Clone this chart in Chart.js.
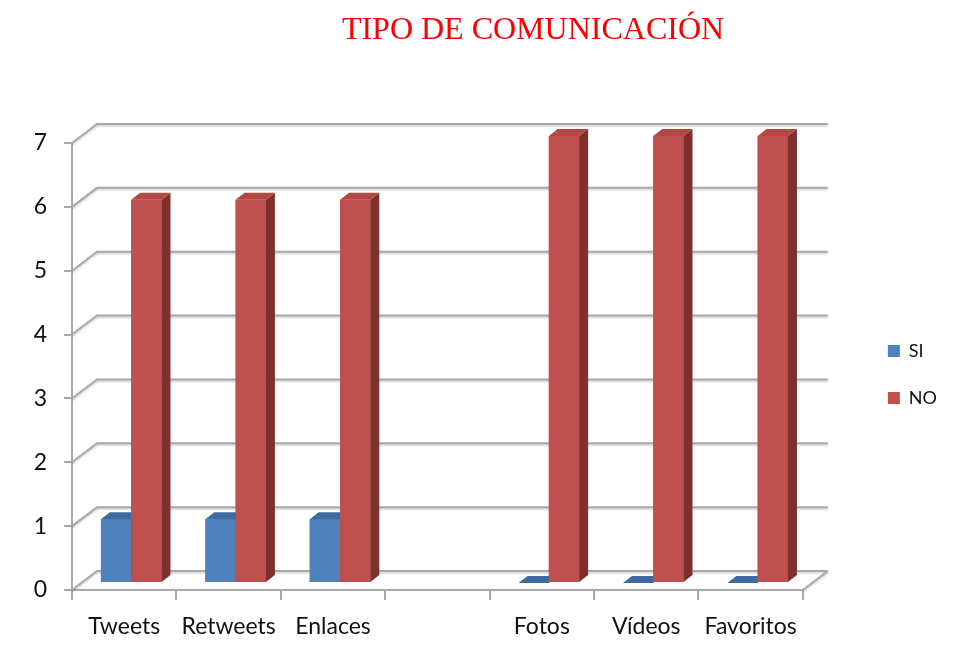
<!DOCTYPE html>
<html>
<head>
<meta charset="utf-8">
<script src="https://cdn.jsdelivr.net/npm/chart.js@4.4.1/dist/chart.umd.min.js"></script>
<style>
    html, body { margin: 0; padding: 0; background: #fff; overflow: hidden; }
    #wrap { position: relative; width: 954px; height: 660px; }
    #titulo {
        position: absolute; left: 533px; top: 10px; transform: translateX(-50%);
        white-space: nowrap; font: 32px "Liberation Serif", "Times New Roman", serif; color: #ff0000;
    }
</style>
</head>
<body>
<div id="wrap">
    <div id="titulo">TIPO DE COMUNICACIÓN</div>
    <canvas id="myChart" width="954" height="660"></canvas>
</div>
<script>
const categorias = ['Tweets', 'Retweets', 'Enlaces', '', 'Fotos', 'Vídeos', 'Favoritos'];
const valoresSi = [1, 1, 1, null, 0, 0, 0];
const valoresNo = [6, 6, 6, null, 7, 7, 7];
const ticksY = [0, 1, 2, 3, 4, 5, 6, 7];

const gris = '#a9a9a9';
const fondo = { dx: 25, dy: -19 };   // back wall offset
const barra = { dx: 7, dy: -7, lado: 9, alto: 7 };  // bar offset + depth

// draws the back wall / floor lines and the side and top faces of the columns
const caras3d = {
    id: 'caras3d',
    beforeDatasetsDraw(chart) {
        const { ctx, chartArea: a, scales: { y } } = chart;
        ctx.save();
        ctx.strokeStyle = gris;
        ctx.lineWidth = 2;
        ctx.shadowColor = 'rgba(0,0,0,0.2)';
        ctx.shadowBlur = 2;
        ctx.shadowOffsetY = 1.5;
        y.ticks.forEach(t => {
            const py = y.getPixelForValue(t.value);
            ctx.beginPath();
            ctx.moveTo(a.left, py);
            ctx.lineTo(a.left + fondo.dx, py + fondo.dy);
            ctx.lineTo(a.right + fondo.dx, py + fondo.dy);
            ctx.stroke();
        });
        ctx.beginPath();
        ctx.moveTo(a.right, a.bottom);
        ctx.lineTo(a.right + fondo.dx, a.bottom + fondo.dy);
        ctx.stroke();
        ctx.restore();
    },
    beforeDatasetDraw(chart) {
        chart.ctx.save();
        chart.ctx.translate(barra.dx, barra.dy);
    },
    afterDatasetDraw(chart) {
        chart.ctx.restore();
    },
    afterDatasetsDraw(chart) {
        const ctx = chart.ctx;
        ctx.save();
        ctx.translate(barra.dx, barra.dy);
        categorias.forEach((c, i) => {
            chart.data.datasets.forEach((ds, d) => {
                if (ds.data[i] == null) return;
                const bar = chart.getDatasetMeta(d).data[i];
                const { x, y, base, width } = bar.getProps(['x', 'y', 'base', 'width'], true);
                const l = x - width / 2, r = x + width / 2;
                ctx.fillStyle = ds.backgroundColor;
                ctx.fillRect(l, y, width, base - y);
                ctx.fillStyle = ds.colorLado;
                ctx.beginPath();
                ctx.moveTo(r, y);
                ctx.lineTo(r + barra.lado, y - barra.alto);
                ctx.lineTo(r + barra.lado, base - barra.alto);
                ctx.lineTo(r, base);
                ctx.closePath();
                ctx.fill();
                ctx.fillStyle = ds.colorTapa;
                ctx.beginPath();
                ctx.moveTo(l, y);
                ctx.lineTo(l + barra.lado, y - barra.alto);
                ctx.lineTo(r + barra.lado, y - barra.alto);
                ctx.lineTo(r, y);
                ctx.closePath();
                ctx.fill();
            });
        });
        ctx.restore();
    }
};

const fuente = { family: 'Lato, "Open Sans", sans-serif', size: 23 };

new Chart(document.getElementById('myChart'), {
    type: 'bar',
    data: {
        labels: categorias,
        datasets: [
            {
                label: 'SI', data: valoresSi,
                backgroundColor: '#4f81bd', colorLado: '#385d8a', colorTapa: '#3e6aa1',
                categoryPercentage: 0.58, barPercentage: 1, clip: false
            },
            {
                label: 'NO', data: valoresNo,
                backgroundColor: '#c0504d', colorLado: '#7d302e', colorTapa: '#b24744',
                categoryPercentage: 0.58, barPercentage: 1, clip: false
            }
        ]
    },
    options: {
        responsive: false,
        animation: false,
        events: [],
        layout: { padding: { top: 143, right: 7, bottom: 20, left: 0 } },
        scales: {
            x: {
                grid: { offset: true, drawOnChartArea: false, tickLength: 10, color: gris, lineWidth: 2 },
                border: { color: gris, width: 2 },
                ticks: { font: fuente, color: '#111', padding: 13, maxRotation: 0, autoSkip: false },
                afterFit(s) { s.height = 50; }
            },
            y: {
                min: ticksY[0],
                max: ticksY[ticksY.length - 1],
                ticks: { stepSize: 1, font: fuente, color: '#111', padding: 17 },
                grid: { drawOnChartArea: false, tickLength: 8, color: gris, lineWidth: 2 },
                border: { color: gris, width: 2 },
                afterFit(s) { s.width = 72; }
            },
            yDer: {
                position: 'right',
                grid: { display: false },
                border: { display: false },
                ticks: { display: false },
                afterFit(s) { s.width = 56; }
            }
        },
        plugins: {
            tooltip: { enabled: false },
            legend: {
                position: 'right',
                fullSize: false,
                maxWidth: 98,
                title: { display: true, text: ' ', font: { size: 10 }, padding: 2 },
                labels: {
                    boxWidth: 12, boxHeight: 12, padding: 29,
                    font: { family: fuente.family, size: 18 }, color: '#111'
                }
            }
        }
    },
    plugins: [caras3d]
});
</script>
</body>
</html>
